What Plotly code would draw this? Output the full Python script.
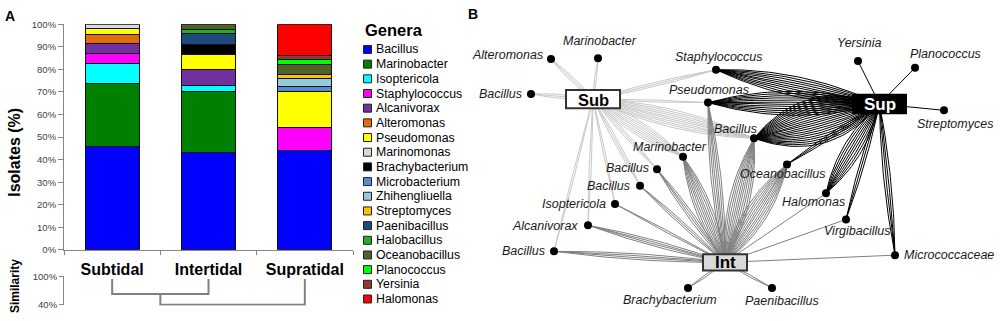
import numpy as np
import plotly.graph_objects as go

W, H = 1000, 321
FONT = "Liberation Sans, Arial, sans-serif"

# ---------------- data: panel A ----------------
sites = ["Subtidal", "Intertidal", "Supratidal"]
genera = ["Bacillus", "Marinobacter", "Isoptericola", "Staphylococcus", "Alcanivorax",
          "Alteromonas", "Pseudomonas", "Marinomonas", "Brachybacterium", "Microbacterium",
          "Zhihengliuella", "Streptomyces", "Paenibacillus", "Halobacillus", "Oceanobacillus",
          "Planococcus", "Yersinia", "Halomonas"]
subtidal_pct = [45.7, 28.2, 8.8, 4.5, 4.1, 4.4, 2.3, 2.0, None, None,
                None, None, None, None, None, None, None, None]
intertidal_pct = [43.2, 27.1, 2.4, None, 7.2, None, 6.7, None, 4.4, None,
                  None, None, 4.8, 2.1, 2.1, None, None, None]
supratidal_pct = [43.9, None, None, 10.3, None, None, 16.0, None, None, 2.1,
                  3.7, 1.9, None, None, 4.4, 2.0, 2.0, 13.7]
similarity_ticks = [40, 100]
similarity_ticktext = ["40%", "100%"]
merge_similarity = [62.5, 40.0]   # (Subtidal+Intertidal), (+Supratidal)

# ---------------- data: panel B (network) ----------------
hubs = ["Sub", "Int", "Sup"]
node_ids = ["Alteromonas", "Marinobacter_a", "Bacillus_a", "Staphylococcus", "Pseudomonas",
            "Bacillus_b", "Marinobacter_b", "Bacillus_c", "Bacillus_d", "Isoptericola",
            "Alcanivorax", "Bacillus_e", "Brachybacterium", "Paenibacillus", "Micrococcaceae",
            "Virgibacillus", "Halomonas", "Oceanobacillus", "Yersinia", "Planococcus",
            "Streptomyces"]
node_names = ["Alteromonas", "Marinobacter", "Bacillus", "Staphylococcus", "Pseudomonas",
              "Bacillus", "Marinobacter", "Bacillus", "Bacillus", "Isoptericola",
              "Alcanivorax", "Bacillus", "Brachybacterium", "Paenibacillus", "Micrococcaceae",
              "Virgibacillus", "Halomonas", "Oceanobacillus", "Yersinia", "Planococcus",
              "Streptomyces"]
sub_links = {"Alteromonas": 3, "Marinobacter_a": 2, "Bacillus_a": 3, "Staphylococcus": 3,
             "Pseudomonas": 2, "Bacillus_b": 10, "Marinobacter_b": 8, "Bacillus_c": 3,
             "Bacillus_d": 3, "Isoptericola": 2, "Alcanivorax": 2, "Bacillus_e": 2}
int_links = {"Bacillus_e": 4, "Alcanivorax": 4, "Isoptericola": 2, "Bacillus_d": 3,
             "Bacillus_c": 4, "Marinobacter_b": 9, "Pseudomonas": 6, "Bacillus_b": 11,
             "Oceanobacillus": 12, "Halomonas": 1, "Virgibacillus": 1, "Micrococcaceae": 1,
             "Brachybacterium": 2, "Paenibacillus": 2}
sup_links = {"Staphylococcus": 10, "Pseudomonas": 12, "Bacillus_b": 22, "Oceanobacillus": 3,
             "Halomonas": 9, "Virgibacillus": 3, "Micrococcaceae": 4, "Yersinia": 1,
             "Planococcus": 1, "Streptomyces": 1}

# ---------------- styles / layout positions ----------------
genus_colors = ["#0000FF", "#008000", "#00FFFF", "#FF00FF", "#7030A0", "#E36C0A", "#FFFF00",
                "#D9D9D9", "#000000", "#558ED5", "#93CDDD", "#FFC000", "#1F497D", "#22B022",
                "#4F6228", "#00FF00", "#953735", "#FF0000"]
hub_pos = {"Sub": (593, 96.5), "Int": (725, 265.5), "Sup": (879.5, 101.5)}
hub_box = {"Sub": (566, 87, 620, 106), "Int": (703, 257, 747, 274), "Sup": (853, 92, 906, 111)}
hub_style = {"Sub": ("white", "#333333", "black"), "Int": ("#D9D9D9", "#333333", "black"),
             "Sup": ("black", "black", "white")}
node_pos = {
    "Alteromonas": (551, 55), "Marinobacter_a": (598, 54), "Bacillus_a": (531, 91),
    "Staphylococcus": (716, 66), "Pseudomonas": (708, 100), "Bacillus_b": (754, 137),
    "Marinobacter_b": (683, 156), "Bacillus_c": (657, 169), "Bacillus_d": (640, 186),
    "Isoptericola": (615, 205), "Alcanivorax": (588, 227), "Bacillus_e": (554, 254),
    "Brachybacterium": (688, 292), "Paenibacillus": (772, 292), "Micrococcaceae": (895, 258),
    "Virgibacillus": (846, 221), "Halomonas": (826, 194), "Oceanobacillus": (787, 164),
    "Yersinia": (858, 57), "Planococcus": (915, 64), "Streptomyces": (944, 108)}
label_pos = {
    "Alteromonas": (545, 51, "right"), "Marinobacter_a": (600, 36, "center"),
    "Bacillus_a": (524, 91, "right"), "Staphylococcus": (719, 53, "center"),
    "Pseudomonas": (709, 87, "center"), "Bacillus_b": (735, 127, "center"),
    "Marinobacter_b": (670, 146, "center"), "Bacillus_c": (651, 168, "right"),
    "Bacillus_d": (632, 186, "right"), "Isoptericola": (608, 205, "right"),
    "Alcanivorax": (580, 228, "right"), "Bacillus_e": (547, 254, "right"),
    "Brachybacterium": (670, 304, "center"), "Paenibacillus": (782, 305, "center"),
    "Micrococcaceae": (902, 258, "left"), "Virgibacillus": (857, 233, "center"),
    "Halomonas": (813, 203, "center"), "Oceanobacillus": (782, 174, "center"),
    "Yersinia": (859, 38, "center"), "Planococcus": (945, 50, "center"),
    "Streptomyces": (955, 122, "center")}
link_style = {"Sub": ("#C8C8C8", 4.0), "Int": ("#808080", 4.0), "Sup": ("#000000", 4.5)}
hub_font = {"Sub": 16.5, "Int": 17, "Sup": 17}

fig = go.Figure()

# ---------------- panel A: stacked bars ----------------
for i, g in enumerate(genera):
    fig.add_trace(go.Bar(
        x=sites, y=[subtidal_pct[i], intertidal_pct[i], supratidal_pct[i]], name=g,
        marker=dict(color=genus_colors[i], line=dict(color="#111111", width=1)),
        xaxis="x", yaxis="y", showlegend=False))

# dendrogram
leaf_top = 94.5
dx = [0, 0, 1, 1, None, 0.5, 0.5, 2, 2]
dy = [leaf_top, merge_similarity[0], merge_similarity[0], leaf_top, None,
      merge_similarity[0], merge_similarity[1], merge_similarity[1], leaf_top]
fig.add_trace(go.Scatter(x=dx, y=dy, mode="lines", line=dict(color="#808080", width=2),
                         xaxis="x2", yaxis="y2", showlegend=False, hoverinfo="skip"))

# ---------------- panel B: network ----------------
def bundle(p, h, n, s):
    p = np.array(p, float); h = np.array(h, float)
    d = h - p
    nrm = np.array([-d[1], d[0]]) / np.hypot(*d)
    mid = (p + h) / 2
    t = np.linspace(0, 1, 30)[:, None]
    xs, ys = [], []
    for k in range(n):
        c = mid + nrm * (k - (n - 1) / 2) * s
        pts = (1 - t) ** 2 * p + 2 * (1 - t) * t * c + t ** 2 * h
        xs += list(pts[:, 0]) + [None]
        ys += list(pts[:, 1]) + [None]
    return xs, ys

for hub, links in zip(hubs, [sub_links, int_links, sup_links]):
    col, sp = link_style[hub]
    X, Y = [], []
    for nid, cnt in links.items():
        xs, ys = bundle(node_pos[nid], hub_pos[hub], cnt, sp)
        X += xs; Y += ys
    fig.add_trace(go.Scatter(x=X, y=Y, mode="lines", line=dict(color=col, width=1),
                             xaxis="x3", yaxis="y3", showlegend=False, hoverinfo="skip"))

fig.add_trace(go.Scatter(x=[node_pos[n][0] for n in node_ids], y=[node_pos[n][1] for n in node_ids],
                         mode="markers", marker=dict(color="black", size=8),
                         xaxis="x3", yaxis="y3", showlegend=False, hoverinfo="skip"))

# legend (manual, compact)
leg_y = [45 + 15.2 * i for i in range(len(genera))]
fig.add_trace(go.Scatter(x=[367.5] * len(genera), y=leg_y, mode="markers",
                         marker=dict(symbol="square", size=8, color=genus_colors,
                                     line=dict(color="#222222", width=1)),
                         xaxis="x3", yaxis="y3", showlegend=False, hoverinfo="skip"))

ann = []
for g, yy in zip(genera, leg_y):
    ann.append(dict(x=374, y=yy, xref="x3", yref="y3", text=g, showarrow=False,
                    xanchor="left", yanchor="middle", font=dict(size=12.3, color="black")))
ann.append(dict(x=363, y=25, xref="x3", yref="y3", text="Genera", showarrow=False,
                xanchor="left", yanchor="middle", font=dict(size=16.5, color="black", weight="bold")))
for nid, name in zip(node_ids, node_names):
    lx, ly, xa = label_pos[nid]
    ann.append(dict(x=lx, y=ly, xref="x3", yref="y3", text="<i>" + name + "</i>", showarrow=False,
                    xanchor=xa, yanchor="middle", font=dict(size=12.5, color="#1a1a1a")))
shapes = []
for hb in hubs:
    x0, y0, x1, y1 = hub_box[hb]
    fill, edge, tcol = hub_style[hb]
    shapes.append(dict(type="rect", xref="x3", yref="y3", x0=x0, y0=y0, x1=x1, y1=y1,
                       fillcolor=fill, line=dict(color=edge, width=2), layer="above"))
    ann.append(dict(x=(x0 + x1) / 2, y=(y0 + y1) / 2 + 0.5, xref="x3", yref="y3", text=hb,
                    showarrow=False, xanchor="center", yanchor="middle",
                    font=dict(size=hub_font[hb], color=tcol, weight="bold")))

ann += [
    dict(x=10, y=10, xref="x3", yref="y3", text="A", showarrow=False,
         font=dict(size=14, weight="bold", color="black")),
    dict(x=473, y=8, xref="x3", yref="y3", text="B", showarrow=False,
         font=dict(size=14, weight="bold", color="black")),
    dict(x=15, y=152, xref="x3", yref="y3", text="Isolates (%)", textangle=-90, showarrow=False,
         font=dict(size=16, weight="bold", color="black")),
    dict(x=15, y=290, xref="x3", yref="y3", text="Similarity", textangle=-90, showarrow=False,
         font=dict(size=12, weight="bold", color="black")),
]

axcol = "#868686"
fig.update_layout(
    width=W, height=H, autosize=False, margin=dict(l=0, r=0, t=0, b=0),
    paper_bgcolor="white", plot_bgcolor="rgba(0,0,0,0)",
    barmode="stack", bargap=0.4375, showlegend=False,
    font=dict(family=FONT, color="black"),
    xaxis=dict(domain=[0.064, 0.353], range=[-0.5, 2.5], type="category",
               categoryorder="array", categoryarray=sites, anchor="y",
               tickson="boundaries", ticks="outside", ticklen=4, tickcolor=axcol,
               showline=True, linecolor=axcol, linewidth=1, showgrid=False,
               tickfont=dict(size=16, weight="bold", color="black"), ticklabelstandoff=5),
    yaxis=dict(domain=[(H - 252.5) / H, (H - 19) / H], range=[0, 100], dtick=10,
               ticksuffix="%", ticks="outside", ticklen=5, tickcolor=axcol,
               showline=True, linecolor=axcol, linewidth=1, showgrid=False, zeroline=False,
               tickfont=dict(size=9.5, color="#404040"), anchor="x"),
    xaxis2=dict(domain=[0.064, 0.353], range=[-0.5, 2.5], visible=False, anchor="y2"),
    yaxis2=dict(domain=[(H - 310.0) / H, (H - 280) / H], range=[38.5, 100],
                tickmode="array", tickvals=similarity_ticks, ticktext=similarity_ticktext,
                ticks="outside", ticklen=4,
                tickcolor=axcol, showline=True, linecolor=axcol, linewidth=1,
                showgrid=False, zeroline=False, tickfont=dict(size=9.5, color="#404040"),
                anchor="x2"),
    xaxis3=dict(domain=[0, 1], range=[0, W], visible=False, anchor="y3"),
    yaxis3=dict(domain=[0, 1], range=[H, 0], visible=False, anchor="x3"),
    annotations=ann, shapes=shapes,
)

fig.write_html("out.html", config={"displayModeBar": False},
               post_script="document.body.style.margin='0';document.body.style.overflow='hidden';")
